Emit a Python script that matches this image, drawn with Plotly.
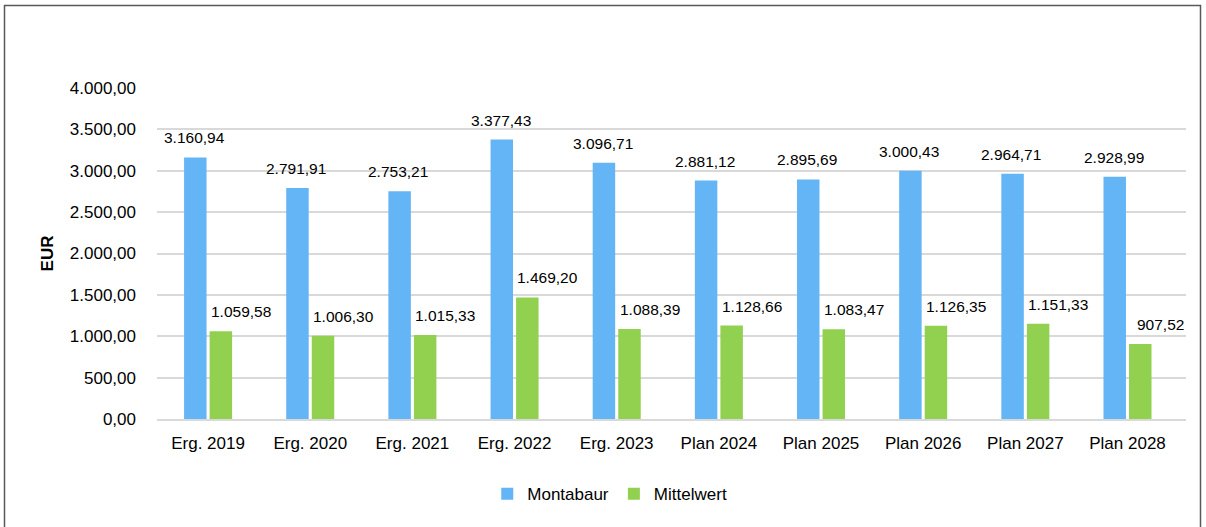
import plotly.graph_objects as go

categories = ["Erg. 2019", "Erg. 2020", "Erg. 2021", "Erg. 2022", "Erg. 2023",
              "Plan 2024", "Plan 2025", "Plan 2026", "Plan 2027", "Plan 2028"]
montabaur = [3160.94, 2791.91, 2753.21, 3377.43, 3096.71, 2881.12, 2895.69, 3000.43, 2964.71, 2928.99]
mittelwert = [1059.58, 1006.30, 1015.33, 1469.20, 1088.39, 1128.66, 1083.47, 1126.35, 1151.33, 907.52]
y_ticks = [0, 500, 1000, 1500, 2000, 2500, 3000, 3500, 4000]

BLUE = "#64B5F6"
GREEN = "#92D050"
FONT = "Liberation Sans, Arial, sans-serif"


def de(v):
    s = f"{v:,.2f}"
    return s.replace(",", "X").replace(".", ",").replace("X", ".")


fig = go.Figure()
fig.add_trace(go.Bar(name="Montabaur", x=categories, y=montabaur, marker_color=BLUE,
                     marker_line_width=0))
fig.add_trace(go.Bar(name="Mittelwert", x=categories, y=mittelwert, marker_color=GREEN,
                     marker_line_width=0))

annotations = []
for c, v in zip(categories, montabaur):
    annotations.append(dict(x=c, y=v, xref="x", yref="y", text=de(v), showarrow=False,
                            xshift=-14, yshift=9, yanchor="bottom",
                            font=dict(family=FONT, size=15.5, color="#000")))
for c, v in zip(categories, mittelwert):
    annotations.append(dict(x=c, y=v, xref="x", yref="y", text=de(v), showarrow=False,
                            xshift=33, yshift=9, yanchor="bottom",
                            font=dict(family=FONT, size=15.5, color="#000")))

fig.update_layout(
    width=1206, height=527,
    margin=dict(l=157, r=20, t=88, b=108, autoexpand=False),
    paper_bgcolor="white", plot_bgcolor="white",
    barmode="group", bargap=0.5, bargroupgap=0.12,
    font=dict(family=FONT, size=17, color="#000"),
    showlegend=True,
    legend=dict(orientation="h", x=0.44, xanchor="center", y=-0.173, yanchor="top",
                font=dict(family=FONT, size=17), itemwidth=30, traceorder="normal",
                tracegroupgap=0, itemsizing="constant"),
    annotations=annotations,
    xaxis=dict(showgrid=False, showline=True, linecolor="#d9d9d9", linewidth=2,
               ticks="", tickfont=dict(family=FONT, size=17), ticklabelstandoff=8),
    yaxis=dict(range=[0, 4000], tickvals=y_ticks, ticktext=[de(t) for t in y_ticks],
               showgrid=True, gridcolor="#d9d9d9", gridwidth=2, zeroline=False,
               ticks="", tickfont=dict(family=FONT, size=17), ticklabelstandoff=20,
               title=dict(text="<b>EUR</b>", font=dict(family=FONT, size=17), standoff=11)),
    shapes=[dict(type="rect", xref="paper", yref="paper",
                 x0=(4.5 - 157) / 1029, x1=(1200.5 - 157) / 1029,
                 y0=(419 - 540) / 331, y1=(419 - 5.5) / 331,
                 line=dict(color="#595959", width=1.5), fillcolor="rgba(0,0,0,0)", layer="below")],
)

fig.write_html("out.html", config={"displayModeBar": False},
               post_script="document.body.style.margin='0';")
